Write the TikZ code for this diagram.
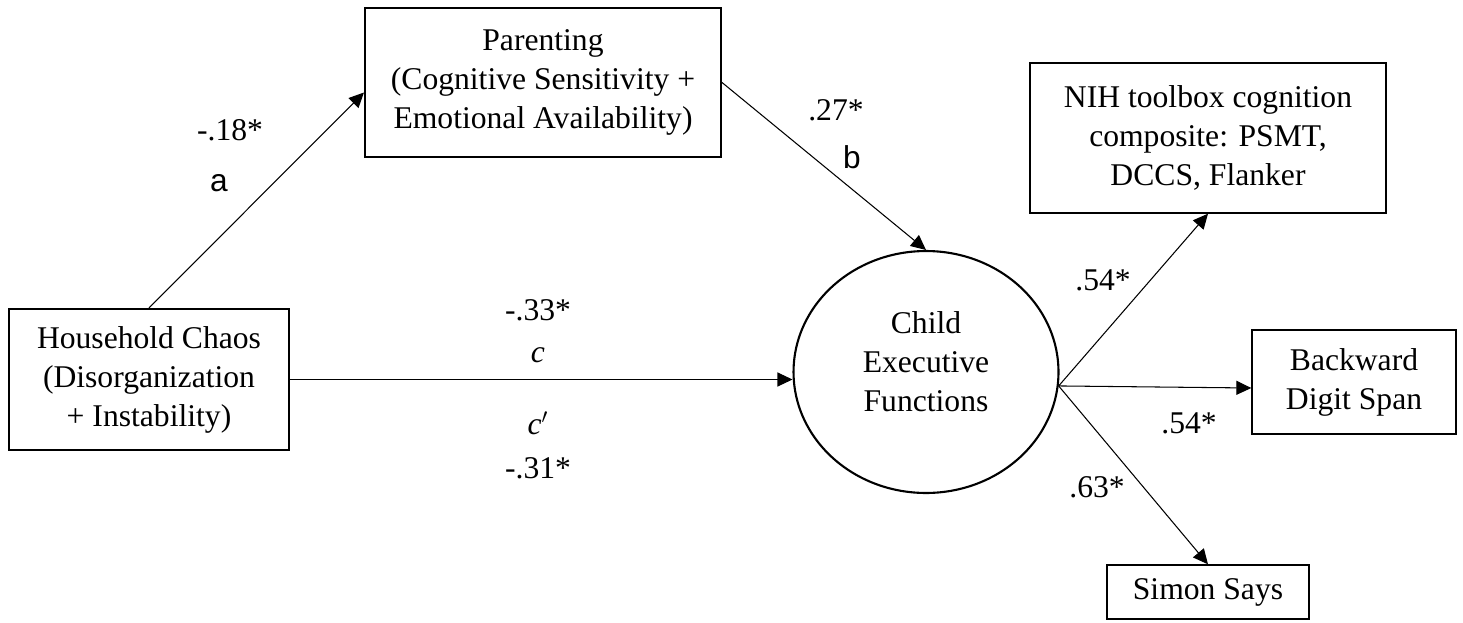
\documentclass[tikz,border=0pt]{standalone}
\usepackage{fontspec}
\setmainfont{Liberation Serif}
\newfontfamily\pathsans{Liberation Sans}
\usetikzlibrary{arrows.meta, positioning, shapes.geometric}

\begin{document}
\begin{tikzpicture}[x=0.02cm, y=-0.02cm, font=\fontsize{18}{22.2}\selectfont,
   var/.style={draw, line width=1.2pt, align=center, inner sep=0pt},
   ind/.style={draw, line width=0.8pt, align=center, inner sep=0pt},
   lat/.style={draw, ellipse, line width=1.2pt, inner sep=0pt},
   arr/.style={-{Triangle[length=3mm, width=2.8mm]}, line width=0.6pt},
   coef/.style={inner sep=1pt}]
   \useasboundingbox (0,0) rectangle (1463,622);

   \node[var, minimum width=7.12cm, minimum height=2.98cm] (par) at (543,82.5)
      {Parenting\\(Cognitive Sensitivity +\\Emotional Availability)};
   \node[var, minimum width=5.6cm, minimum height=2.82cm] (hc) at (149,379.5)
      {Household Chaos\\(Disorganization\\+ Instability)};
   \node[lat, minimum width=5.3cm, minimum height=4.84cm] (ef) at (926,372) {};
   \node[align=center, inner sep=0pt] (eftext) at (926,362)
      {Child\\Executive\\Functions};
   \node[ind, minimum width=7.12cm, minimum height=3cm] (nih) at (1208,138)
      {NIH toolbox cognition\\composite: PSMT,\\DCCS, Flanker};
   \node[ind, minimum width=4.08cm, minimum height=2.08cm] (bds) at (1354,382)
      {Backward\\Digit Span};
   \node[ind, minimum width=4.04cm, minimum height=1.08cm] (ss) at (1208,592)
      {Simon Says};

   % path coefficients
   \node[coef] (ca) at (230,130) {-.18*};
   \node[coef] (la) at (219,183) {\pathsans a};
   \node[coef] (cb) at (836,110) {.27*};
   \node[coef] (lb) at (852,157) {\pathsans b};
   \node[coef] (cc) at (538,310) {-.33*};
   \node[coef] (lc) at (538,355) {\textit{c}};
   \node[coef] (lcp) at (538,423) {\textit{c}$'$};
   \node[coef] (ccp) at (538,468) {-.31*};
   \node[coef] (cnih) at (1103,280) {.54*};
   \node[coef] (cbds) at (1189,423) {.54*};
   \node[coef] (css) at (1097,487) {.63*};

   \coordinate (fan) at (ef.-6);
   \path[arr]
    (hc.north) edge ([yshift=-0.2cm]par.west)
    (par.east) edge (ef.north)
    (hc.east) edge (hc.east -| ef.west)
    (fan) edge (nih.south)
          edge ([yshift=-0.12cm]bds.west)
          edge (ss.north);
\end{tikzpicture}
\end{document}
